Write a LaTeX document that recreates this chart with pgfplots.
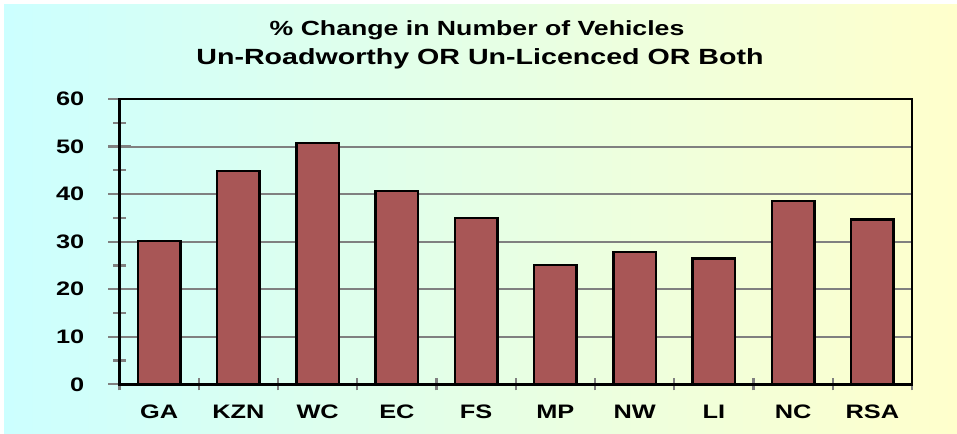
\documentclass[border=0pt]{standalone}
\usepackage{pgfplots}
\pgfplotsset{compat=1.18}
\usepackage{fontspec}
\setmainfont{Liberation Sans}
\newfontfamily\wide[FakeStretch=1.3]{Liberation Sans}
\definecolor{barred}{RGB}{168,86,86}
\definecolor{bgL}{RGB}{204,255,255}
\definecolor{bgR}{RGB}{255,255,204}
\definecolor{gridgray}{RGB}{128,128,128}
\begin{document}
\begin{tikzpicture}
\path[use as bounding box] (0,0) rectangle (957bp,434bp);
\fill[white] (0,0) rectangle (957bp,434bp);
\shade[left color=bgL, right color=bgR] (4bp,0) rectangle (957bp,429bp);
\node[anchor=base, inner sep=0pt, font=\wide\bfseries\fontsize{20.5bp}{23bp}\selectfont] at (477bp,398bp) {\% Change in Number of Vehicles};
\node[anchor=base, inner sep=0pt, font=\wide\bfseries\fontsize{22bp}{26bp}\selectfont] at (480bp,369bp) {Un-Roadworthy OR Un-Licenced OR Both};
\begin{axis}[
  at={(119.5bp,49.7bp)}, anchor=south west,
  scale only axis, width=792.5bp, height=285.3bp,
  xmin=-0.5, xmax=9.5, ymin=0, ymax=60,
  ybar, bar width=42.5bp,
  xtick={0,...,9},
  xticklabels={GA,KZN,WC,EC,FS,MP,NW,LI,NC,RSA},
  minor xtick={-0.5,0.5,...,9.5},
  ytick={0,10,...,60},
  minor ytick={5,15,...,55},
  tick align=center,
  tick pos=left,
  major tick length=22bp,
  minor tick length=12bp,
  tick style={gridgray, line width=2.2bp},
  every major x tick/.style={draw=none},
  ymajorgrids,
  major grid style={gridgray, line width=2bp},
  axis line style={black, line width=2.5bp},
  /pgf/number format/assume math mode=true,
  ticklabel style={font=\wide\bfseries\fontsize{19.5bp}{22bp}\selectfont, inner sep=0pt},
  yticklabel style={anchor=east, xshift=-24bp},
  xticklabel style={anchor=base, yshift=-23bp},
]
\addplot[fill=barred, draw=black, line width=2.5bp] coordinates {
(0,30.1) (1,44.9) (2,50.7) (3,40.6) (4,35.0) (5,25.1) (6,27.8) (7,26.5) (8,38.6) (9,34.7)
};
\end{axis}
\end{tikzpicture}
\end{document}
